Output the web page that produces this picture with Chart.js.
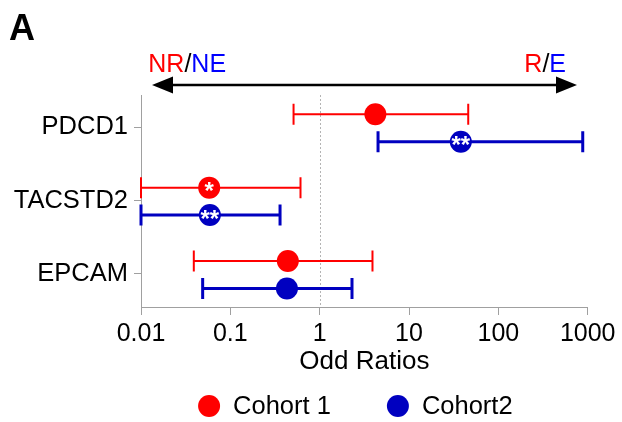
<!DOCTYPE html>
<html>
<head>
<meta charset="utf-8">
<script src="https://cdn.jsdelivr.net/npm/chart.js@4.4.0/dist/chart.umd.min.js"></script>
<style>
  body { margin: 0; background: #fff; }
  canvas { display: block; }
</style>
</head>
<body>
<canvas id="chart" width="622" height="422"></canvas>
<script>
const genes = ['PDCD1', 'TACSTD2', 'EPCAM']
const tickValues = [0.01, 0.1, 1, 10, 100, 1000]
const tickLabels = ['0.01', '0.1', '1', '10', '100', '1000']

const cohort1OR = [4.2, 0.058, 0.44]
const cohort1Low = [0.51, 0.01, 0.039]
const cohort1High = [46, 0.61, 3.9]
const cohort1Stars = ['', '*', '']

const cohort2OR = [38, 0.059, 0.43]
const cohort2Low = [4.5, 0.01, 0.049]
const cohort2High = [880, 0.36, 2.3]
const cohort2Stars = ['**', '**', '']

const RED = '#ff0000'
const BLUE = '#0000c0'
const GREY = '#a0a0a0'
const FONT = "'Liberation Sans', Arial, sans-serif"

// genes sit at 3, 2, 1 on the y scale (top to bottom)
const rowOf = (i) => genes.length - i
const points = (values, shift) => values.map((v, i) => ({ x: v, y: rowOf(i) + shift }))

const errorBars = {
  id: 'errorBars',
  beforeDatasetsDraw(chart) {
    const { ctx, chartArea, scales: { x, y } } = chart
    // dotted line at OR = 1
    const one = x.getPixelForValue(1)
    ctx.save()
    ctx.strokeStyle = '#b4b4b4'
    ctx.lineWidth = 1
    ctx.setLineDash([2, 2])
    ctx.beginPath()
    ctx.moveTo(Math.round(one) + 0.5, chartArea.top)
    ctx.lineTo(Math.round(one) + 0.5, chartArea.bottom)
    ctx.stroke()
    ctx.restore()

    chart.data.datasets.forEach((ds) => {
      ctx.save()
      ctx.strokeStyle = ds.backgroundColor
      ctx.lineWidth = ds.barWidth
      ds.data.forEach((p, i) => {
        const x1 = x.getPixelForValue(ds.low[i])
        const x2 = x.getPixelForValue(ds.high[i])
        const py = y.getPixelForValue(p.y)
        ctx.beginPath()
        ctx.moveTo(x1, py)
        ctx.lineTo(x2, py)
        ctx.moveTo(x1, py - 10.5)
        ctx.lineTo(x1, py + 10.5)
        ctx.moveTo(x2, py - 10.5)
        ctx.lineTo(x2, py + 10.5)
        ctx.stroke()
      })
      ctx.restore()
    })
  },
  afterDatasetsDraw(chart) {
    const { ctx, scales: { x, y } } = chart
    ctx.save()
    ctx.fillStyle = '#fff'
    ctx.font = `bold 24px ${FONT}`
    ctx.textAlign = 'center'
    ctx.textBaseline = 'middle'
    chart.data.datasets.forEach((ds) => {
      ds.data.forEach((p, i) => {
        if (!ds.stars[i]) return
        ctx.fillText(ds.stars[i], x.getPixelForValue(p.x), y.getPixelForValue(p.y) + 5)
      })
    })
    ctx.restore()
  }
}

const extras = {
  id: 'extras',
  afterDraw(chart) {
    const { ctx, chartArea } = chart
    ctx.save()
    // panel letter
    ctx.fillStyle = '#000'
    ctx.font = `bold 36px ${FONT}`
    ctx.textBaseline = 'alphabetic'
    ctx.fillText('A', 9, 39.5)

    // direction labels
    ctx.font = `25px ${FONT}`
    const drawParts = (parts, x, y) => {
      parts.forEach(([t, c]) => {
        ctx.fillStyle = c
        ctx.fillText(t, x, y)
        x += ctx.measureText(t).width
      })
    }
    drawParts([['NR', RED], ['/', '#000'], ['NE', '#0000ff']], chartArea.left + 7.3, 71.7)
    const right = [['R', RED], ['/', '#000'], ['E', '#0000ff']]
    const rw = right.reduce((s, [t]) => s + ctx.measureText(t).width, 0)
    drawParts(right, chartArea.right - 21.7 - rw, 71.7)

    // double arrow
    const ay = 85
    const l = chartArea.left + 11
    const r = chartArea.right - 10.7
    ctx.strokeStyle = '#000'
    ctx.lineWidth = 2.5
    ctx.beginPath()
    ctx.moveTo(l + 15, ay)
    ctx.lineTo(r - 15, ay)
    ctx.stroke()
    ctx.fillStyle = '#000'
    ctx.beginPath()
    ctx.moveTo(l, ay)
    ctx.lineTo(l + 21, ay - 8.5)
    ctx.lineTo(l + 21, ay + 8.5)
    ctx.closePath()
    ctx.fill()
    ctx.beginPath()
    ctx.moveTo(r, ay)
    ctx.lineTo(r - 21, ay - 8.5)
    ctx.lineTo(r - 21, ay + 8.5)
    ctx.closePath()
    ctx.fill()

    // legend row
    ctx.font = `25.5px ${FONT}`
    ctx.textBaseline = 'middle'
    const items = chart.data.datasets.map((ds) => ({
      text: ds.label,
      color: ds.backgroundColor,
      w: 35 + ctx.measureText(ds.label).width
    }))
    const gap = 56
    const total = items.reduce((s, it) => s + it.w, 0) + gap * (items.length - 1)
    let lx = (chartArea.left + chartArea.right) / 2 - 9 - total / 2
    const ly = 406
    items.forEach((it) => {
      ctx.fillStyle = it.color
      ctx.beginPath()
      ctx.arc(lx + 11, ly, 11, 0, Math.PI * 2)
      ctx.fill()
      ctx.fillStyle = '#000'
      ctx.fillText(it.text, lx + 35, ly + 1)
      lx += it.w + gap
    })
    ctx.restore()
  }
}

const data = {
  datasets: [{
    label: 'Cohort 1',
    data: points(cohort1OR, 0.177),
    low: cohort1Low,
    high: cohort1High,
    stars: cohort1Stars,
    barWidth: 2,
    backgroundColor: RED,
    borderWidth: 0,
    pointRadius: 11,
    pointHoverRadius: 11
  }, {
    label: 'Cohort2',
    data: points(cohort2OR, -0.197),
    low: cohort2Low,
    high: cohort2High,
    stars: cohort2Stars,
    barWidth: 3,
    backgroundColor: BLUE,
    borderWidth: 0,
    pointRadius: 11,
    pointHoverRadius: 11
  }]
}

const config = {
  type: 'scatter',
  data: data,
  options: {
    responsive: false,
    animation: false,
    layout: {
      autoPadding: false,
      padding: { top: 95, right: 34.3, bottom: 45, left: 0 }
    },
    plugins: {
      legend: { display: false },
      tooltip: { enabled: false }
    },
    scales: {
      x: {
        type: 'logarithmic',
        min: 0.01,
        max: 1000,
        afterBuildTicks: (scale) => {
          scale.ticks = tickValues.map((v) => ({ value: v, major: true }))
        },
        afterFit: (scale) => { scale.height = 70 },
        ticks: {
          autoSkip: false,
          maxRotation: 0,
          padding: 4,
          color: '#000',
          font: { family: FONT, size: 25 },
          callback: (value, index) => tickLabels[index]
        },
        grid: { drawOnChartArea: false, tickLength: 8, color: GREY },
        border: { color: GREY, width: 1 },
        title: {
          display: true,
          text: 'Odd Ratios',
          color: '#000',
          font: { family: FONT, size: 26 },
          padding: { top: 0, bottom: 0 }
        }
      },
      y: {
        type: 'linear',
        min: 0.55,
        max: 3.44,
        afterBuildTicks: (scale) => {
          scale.ticks = genes.map((g, i) => ({ value: rowOf(i) }))
        },
        afterFit: (scale) => { scale.width = 141 },
        ticks: {
          autoSkip: false,
          padding: 6,
          color: '#000',
          font: { family: FONT, size: 25.5 },
          callback: (value) => genes[genes.length - value]
        },
        grid: { drawOnChartArea: false, tickLength: 7, color: GREY },
        border: { color: GREY, width: 1 }
      }
    }
  },
  plugins: [errorBars, extras]
}

const mychart = new Chart(document.getElementById('chart').getContext('2d'), config)
</script>
</body>
</html>
